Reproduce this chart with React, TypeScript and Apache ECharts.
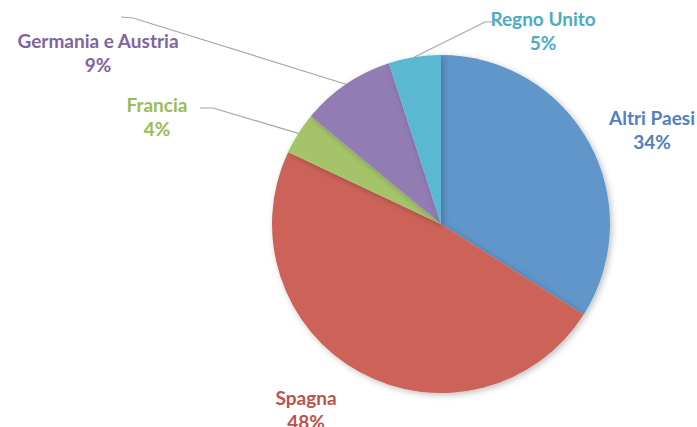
import React, { useEffect, useRef } from "react";
import * as echarts from "echarts";

const categories = ["Altri Paesi", "Spagna", "Francia", "Germania e Austria", "Regno Unito"];
const values = [34, 48, 4, 9, 5];
const sliceColors = ["#6096CA", "#CD6459", "#A5C46B", "#917BB4", "#5AB8D2"];
const textColors = ["#4F80C0", "#C0504D", "#9BBB59", "#8064A2", "#4BACC6"];
// label centres (layout)
const labelPos: [number, number][] = [
  [652, 129],
  [306, 409],
  [157, 116],
  [98, 52],
  [543, 30],
];
// leader line outer points (layout), null = no leader
const leaderStarts: ([number, number][] | null)[] = [
  null,
  null,
  [[200, 108], [213, 108]],
  [[121, 17], [133, 18]],
  [[498, 22], [485, 22]],
];

const CX = 441;
const CY = 224;
const R = 169;

export default function App() {
  const ref = useRef<HTMLDivElement>(null);
  useEffect(() => {
    if (!ref.current) return;
    const chart = echarts.init(ref.current, undefined, { renderer: "svg" });
    const total = values.reduce((a, b) => a + b, 0);
    let cum = 0;
    const lines: any[] = [];
    values.forEach((v, i) => {
      const mid = ((cum + v / 2) / total) * Math.PI * 2;
      cum += v;
      const st = leaderStarts[i];
      if (!st) return;
      const ex = CX + R * Math.sin(mid);
      const ey = CY - R * Math.cos(mid);
      lines.push({
        type: "polyline",
        silent: true,
        z: 10,
        shape: { points: [...st, [ex, ey]] },
        style: { stroke: "#A6A6A6", lineWidth: 1.2, fill: null },
      });
    });
    chart.setOption({
      animation: false,
      backgroundColor: "#ffffff",
      graphic: lines,
      series: [
        {
          type: "pie",
          center: [CX, CY],
          radius: [0, R],
          startAngle: 90,
          clockwise: true,
          avoidLabelOverlap: false,
          data: categories.map((name, i) => ({
            name,
            value: values[i],
            itemStyle: { color: sliceColors[i] },
            label: { color: textColors[i] },
          })),
          itemStyle: {
            shadowBlur: 6,
            shadowColor: "rgba(0,0,0,0.25)",
            shadowOffsetX: 2,
            shadowOffsetY: 2,
          },
          label: {
            show: true,
            position: "outside",
            formatter: (p: any) => `${p.name}\n${p.value}%`,
            fontFamily: "Lato",
            fontWeight: "bold",
            fontSize: 19,
            lineHeight: 24,
            align: "center",
          },
          labelLine: { show: false },
          labelLayout: (params: any) => {
            const pos = labelPos[params.dataIndex];
            return { x: pos[0], y: pos[1], align: "center", verticalAlign: "middle" };
          },
          emphasis: { disabled: true },
        },
      ],
    });
    return () => chart.dispose();
  }, []);
  return (
    <div
      ref={ref}
      style={{ position: "fixed", left: 0, top: 0, width: 697, height: 427 }}
    />
  );
}
